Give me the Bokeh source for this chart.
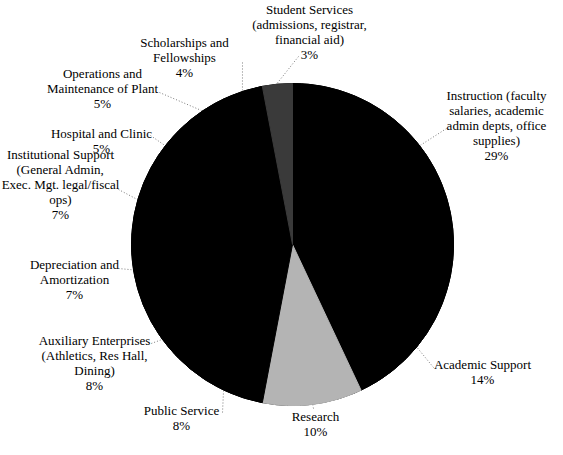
import math
from bokeh.plotting import figure
from bokeh.models import ColumnDataSource, Range1d
from bokeh.core.properties import value
from bokeh.embed import file_html
from bokeh.resources import INLINE

# ---- data (clockwise from 12 o'clock) ----
categories = [
    "Instruction (faculty\nsalaries, academic\nadmin depts, office\nsupplies)",
    "Academic Support",
    "Research",
    "Public Service",
    "Auxiliary Enterprises\n(Athletics, Res Hall,\nDining)",
    "Depreciation and\nAmortization",
    "Institutional Support\n(General Admin,\nExec. Mgt. legal/fiscal\nops)",
    "Hospital and Clinic",
    "Operations and\nMaintenance of Plant",
    "Scholarships and\nFellowships",
    "Student Services\n(admissions, registrar,\nfinancial aid)",
]
percents = [29, 14, 10, 8, 8, 7, 7, 5, 5, 4, 3]
colors = ["#000000", "#000000", "#b4b4b4", "#000000", "#000000", "#000000",
          "#000000", "#000000", "#000000", "#000000", "#3a3a3a"]

# ---- layout (image pixel coords: label centre x, first-line y, leader start) ----
label_cx = [504, 490, 323, 189, 102, 82, 68, 109, 110, 192, 317]
label_y0 = [103, 372, 424, 418, 348, 272, 162, 141, 81, 50, 17]
lead_x = [454, 441, 321, 230, 156, 126, 126, 158, 167, 250, 306]
lead_y = [136, 375, 416, 420, 352, 276, 197, 143, 100, 70, 64]

H = 455
CX, CY, R = 300, 252, 161
LINE_H = 15
FONT = "Liberation Serif"

def Y(img_y):
    return H - img_y

p = figure(width=547, height=439, output_backend="svg", toolbar_location=None,
           x_range=Range1d(8, 555), y_range=Range1d(8, 447), min_border=0)
p.axis.visible = False
p.grid.visible = False
p.outline_line_color = None
p.background_fill_color = "white"
p.border_fill_color = "white"

total = sum(percents)
starts, ends, mids = [], [], []
acc = 0.0
for v in percents:
    t0 = acc / total * 360.0
    acc += v
    t1 = acc / total * 360.0
    starts.append(math.radians(90 - t1))
    ends.append(math.radians(90 - t0))
    mids.append((t0 + t1) / 2)

# black disc underneath to hide seams between adjoining black slices
p.circle(x=[CX], y=[Y(CY)], radius=R, fill_color="black", line_color="black")

src = ColumnDataSource(dict(x=[CX] * len(percents), y=[Y(CY)] * len(percents),
                            s=starts, e=ends, c=colors))
p.wedge(x="x", y="y", radius=R, start_angle="s", end_angle="e",
        fill_color="c", line_color="c", line_width=1, source=src)

# leader lines
xs, ys = [], []
for i, m in enumerate(mids):
    ex = CX + (R + 1) * math.sin(math.radians(m))
    ey = CY - (R + 1) * math.cos(math.radians(m))
    xs.append([lead_x[i], ex])
    ys.append([Y(lead_y[i]), Y(ey)])
p.multi_line(xs=xs, ys=ys, line_color="#7a7a7a", line_dash="1 2", line_width=1)

# labels
tx, ty, tt = [], [], []
for i, cat in enumerate(categories):
    lines = cat.split("\n") + [f"{percents[i]}%"]
    for k, ln in enumerate(lines):
        tx.append(label_cx[i])
        ty.append(Y(label_y0[i] + k * LINE_H))
        tt.append(ln)
p.text(x=tx, y=ty, text=tt, text_font=value(FONT),
       text_font_size="13px", text_align="center", text_baseline="middle",
       text_color="black")

open("out.html", "w").write(file_html(p, INLINE))
